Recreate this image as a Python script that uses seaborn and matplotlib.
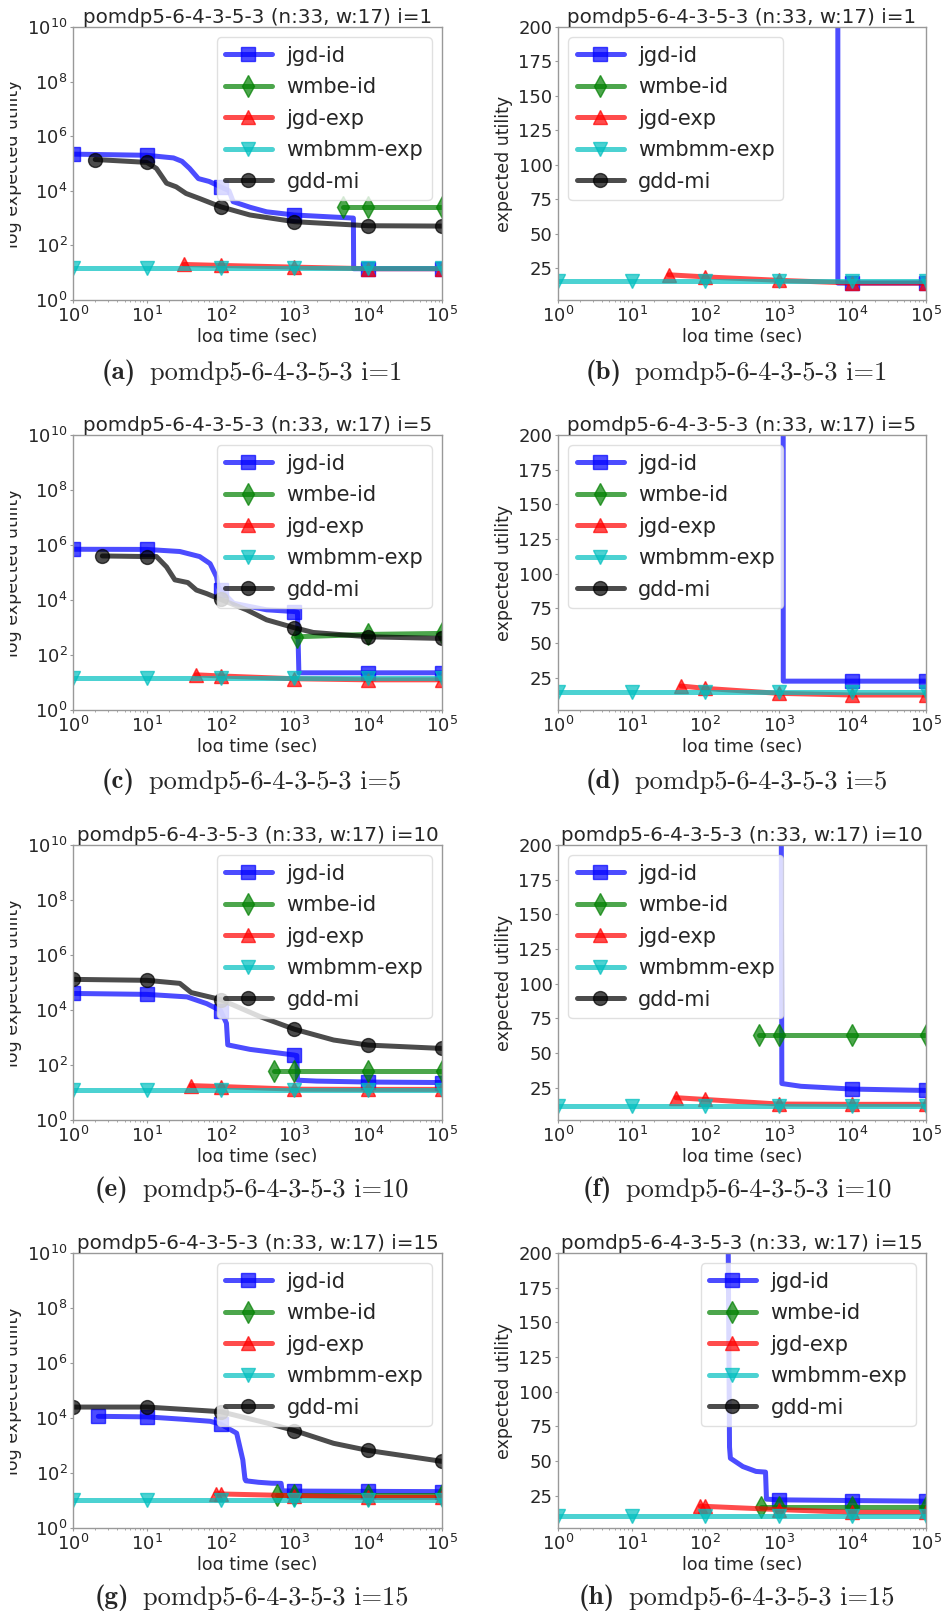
import numpy as np
import pandas as pd
import matplotlib
matplotlib.use("Agg")
import matplotlib.pyplot as plt
import seaborn as sns
from matplotlib.transforms import Bbox, TransformedBbox
from matplotlib.ticker import FixedLocator, NullLocator, LogLocator, NullFormatter

# ---------------- data ----------------
METHODS = ["jgd-id", "wmbe-id", "jgd-exp", "wmbmm-exp", "gdd-mi"]
COLORS = ["b", "g", "r", "c", "k"]
MARKERS = ["s", "d", "^", "v", "o"]
I_VALUES = [1, 5, 10, 15]
PROBLEM = "pomdp5-6-4-3-5-3"
LETTERS = ["a", "b", "c", "d", "e", "f", "g", "h"]

# i = 1
JGDID_T_1 = [1, 10, 23, 30, 38, 50, 70, 100, 130, 148, 250, 420, 1000, 6300, 6350, 1e4, 1e5]
JGDID_V_1 = [2.2e5, 2.0e5, 1.6e5, 1.2e5, 6.6e4, 2.8e4, 2.2e4, 1.4e4, 1.0e4, 4e3, 2.5e3, 1.7e3, 1.3e3, 1.0e3, 14, 14, 14]
WMBEID_T_1 = [4600, 1e4, 1e5]
WMBEID_V_1 = [2600, 2600, 2600]
JGDEXP_T_1 = [32, 100, 1000, 1e4, 1e5]
JGDEXP_V_1 = [20, 18.5, 16, 14, 14]
WMBMM_T_1 = [1, 10, 100, 1000, 1e4, 1e5]
WMBMM_V_1 = [15.5, 15.5, 15.5, 15.5, 15.5, 15.5]
GDDMI_T_1 = [2, 10, 13.5, 18.5, 25, 34, 52, 100, 250, 1000, 1e4, 1e5]
GDDMI_V_1 = [1.4e5, 1.1e5, 6.6e4, 1.9e4, 1.4e4, 8e3, 5.2e3, 2.6e3, 1.3e3, 740, 525, 510]

# i = 5
JGDID_T_5 = [1, 10, 28, 52, 72, 88, 93, 100, 150, 420, 1000, 1100, 1150, 1e4, 1e5]
JGDID_V_5 = [7e5, 6.9e5, 5.8e5, 3.8e5, 2.1e5, 7e4, 3e4, 2.3e4, 7.6e3, 4.4e3, 3.8e3, 3.6e3, 22.5, 22.5, 22.5]
WMBEID_T_5 = [1070, 1e4, 1e5]
WMBEID_V_5 = [460, 560, 610]
JGDEXP_T_5 = [47, 100, 1000, 1e4, 1e5]
JGDEXP_V_5 = [19, 17.3, 13.7, 12.5, 12.5]
WMBMM_T_5 = [1, 10, 100, 1000, 1e4, 1e5]
WMBMM_V_5 = [14.5, 14.5, 14.5, 14.5, 14.5, 14.5]
GDDMI_T_5 = [2.5, 10, 13.5, 18.5, 24, 36, 47, 65, 100, 225, 420, 1000, 1800, 1e4, 1e5]
GDDMI_V_5 = [4e5, 3.8e5, 3.8e5, 1.6e5, 5.4e4, 4.3e4, 2.3e4, 1.7e4, 1.05e4, 4.4e3, 1.9e3, 980, 660, 460, 400]

# i = 10
JGDID_T_10 = [1, 10, 35, 65, 100, 120, 125, 250, 1000, 1080, 1100, 2000, 1e4, 1e5]
JGDID_V_10 = [4e4, 3.7e4, 3e4, 1.7e4, 9.5e3, 3.3e3, 540, 370, 230, 220, 28, 26, 24, 23]
WMBEID_T_10 = [530, 1000, 1e4, 1e5]
WMBEID_V_10 = [63, 63, 63, 63]
JGDEXP_T_10 = [40, 100, 1000, 1e4, 1e5]
JGDEXP_V_10 = [17.8, 16.5, 13.2, 13, 13]
WMBMM_T_10 = [1, 10, 100, 1000, 1e4, 1e5]
WMBMM_V_10 = [12, 12, 12, 12, 12, 12]
GDDMI_T_10 = [1, 10, 28, 40, 100, 340, 1000, 3400, 1e4, 1e5]
GDDMI_V_10 = [1.3e5, 1.2e5, 9.3e4, 4.3e4, 2.4e4, 5.8e3, 2e3, 810, 530, 400]

# i = 15
JGDID_T_15 = [2.2, 10, 31, 72, 100, 165, 200, 214, 220, 325, 490, 660, 680, 1000, 1e4, 1e5]
JGDID_V_15 = [1.15e4, 1.1e4, 9e3, 7.6e3, 6e3, 2.8e3, 300, 60, 52, 46, 42.5, 42, 22.5, 22, 21.5, 21]
WMBEID_T_15 = [575, 1000, 1e4, 1e5]
WMBEID_V_15 = [16.5, 16.5, 16.5, 16.5]
JGDEXP_T_15 = [86, 100, 1000, 1e4, 1e5]
JGDEXP_V_15 = [17.5, 17.3, 15, 13, 13]
WMBMM_T_15 = [1, 10, 100, 1000, 1e4, 1e5]
WMBMM_V_15 = [10.5, 10.5, 10.5, 10.5, 10.5, 10.5]
GDDMI_T_15 = [1, 10, 100, 420, 1000, 3400, 1e4, 1e5]
GDDMI_V_15 = [2.5e4, 2.5e4, 1.7e4, 6.6e3, 3.5e3, 1.2e3, 660, 265]

SERIES = {
    1: [(JGDID_T_1, JGDID_V_1), (WMBEID_T_1, WMBEID_V_1), (JGDEXP_T_1, JGDEXP_V_1),
        (WMBMM_T_1, WMBMM_V_1), (GDDMI_T_1, GDDMI_V_1)],
    5: [(JGDID_T_5, JGDID_V_5), (WMBEID_T_5, WMBEID_V_5), (JGDEXP_T_5, JGDEXP_V_5),
        (WMBMM_T_5, WMBMM_V_5), (GDDMI_T_5, GDDMI_V_5)],
    10: [(JGDID_T_10, JGDID_V_10), (WMBEID_T_10, WMBEID_V_10), (JGDEXP_T_10, JGDEXP_V_10),
         (WMBMM_T_10, WMBMM_V_10), (GDDMI_T_10, GDDMI_V_10)],
    15: [(JGDID_T_15, JGDID_V_15), (WMBEID_T_15, WMBEID_V_15), (JGDEXP_T_15, JGDEXP_V_15),
         (WMBMM_T_15, WMBMM_V_15), (GDDMI_T_15, GDDMI_V_15)],
}

LOG_YTICKS = [1e0, 1e2, 1e4, 1e6, 1e8, 1e10]
LIN_YTICKS = [25, 50, 75, 100, 125, 150, 175, 200]
XTICKS = [1e0, 1e1, 1e2, 1e3, 1e4, 1e5]

# ---------------- style ----------------
sns.set_style("white")
plt.rcParams["font.family"] = ["DejaVu Sans"]
plt.rcParams["mathtext.fontset"] = "dejavusans"

W, H = 946, 1617
fig = plt.figure(figsize=(W / 100, H / 100), dpi=100)
fig.patch.set_facecolor("white")

LEFT_X = (73, 442)
RIGHT_X = (558, 926)
ROW_Y = [(27, 300), (435, 710), (845, 1120), (1253, 1528)]
CAP_Y = [373, 782, 1190, 1598]
CAP_X = [251.5, 736.5]
SPINE_C = "0.6"


def rect(x0, x1, y0, y1):
    return [x0 / W, 1 - y1 / H, (x1 - x0) / W, (y1 - y0) / H]


def marker_idx(t):
    idx = [0]
    for k, v in enumerate(t):
        if k > 0 and abs(np.log10(v) - round(np.log10(v))) < 1e-9:
            idx.append(k)
    return idx


def clip_text(txt, x0px, ybotpx):
    # keep only pixels right of x0px and above ybotpx (pixel coords from top-left)
    bb = Bbox.from_extents(x0px / W, 1 - ybotpx / H, 1, 1)
    txt.set_clip_box(TransformedBbox(bb, fig.transFigure))
    txt.set_clip_on(True)


captions = []
for r, iv in enumerate(I_VALUES):
    y0, y1 = ROW_Y[r]
    for c in range(2):
        xs = LEFT_X if c == 0 else RIGHT_X
        ax = fig.add_axes(rect(xs[0], xs[1], y0, y1))
        ax.set_facecolor("white")
        for m, (t, v) in enumerate(SERIES[iv]):
            df = pd.DataFrame({"time": t, "value": v})
            sns.lineplot(data=df, x="time", y="value", ax=ax, sort=False, estimator=None,
                         color=COLORS[m], marker=MARKERS[m], markevery=marker_idx(t),
                         markersize=10 if MARKERS[m] != "d" else 11,
                         markeredgecolor=COLORS[m], markeredgewidth=1,
                         linewidth=3.6, alpha=0.7, label=METHODS[m])
        ax.set_xscale("log")
        ax.set_xlim(1, 1e5)
        ax.xaxis.set_major_locator(FixedLocator(XTICKS))
        ax.xaxis.set_minor_locator(LogLocator(base=10, subs=np.arange(2, 10), numticks=20))
        ax.xaxis.set_minor_formatter(NullFormatter())
        if c == 0:
            ax.set_yscale("log")
            ax.set_ylim(1, 1e10)
            ax.yaxis.set_major_locator(FixedLocator(LOG_YTICKS))
            ax.yaxis.set_minor_locator(NullLocator())
            ax.set_ylabel("log expected utility", fontsize=12.5, labelpad=4)
            leg_loc = "upper right"
        else:
            ax.set_ylim(1.7, 200)
            ax.yaxis.set_major_locator(FixedLocator(LIN_YTICKS))
            ax.set_ylabel("expected utility", fontsize=12.5, labelpad=4)
            leg_loc = "upper right" if iv == 15 else "upper left"
        ax.set_xlabel("log time (sec)", fontsize=12.5, labelpad=2)
        ax.set_title(f"{PROBLEM} (n:33, w:17) i={iv}", fontsize=14.3, pad=1.5)
        ax.tick_params(axis="both", which="major", labelsize=13, length=2.5, width=0.8,
                       pad=1.5, color=SPINE_C, direction="out", bottom=True, left=True)
        ax.tick_params(axis="x", which="minor", length=1.6, width=0.6, color=SPINE_C,
                       direction="out", bottom=True)
        for s in ax.spines.values():
            s.set_color(SPINE_C)
            s.set_linewidth(1.0)
        ax.legend(loc=leg_loc, fontsize=15, handlelength=2.25, handletextpad=0.7,
                  labelspacing=0.55, borderpad=0.4, frameon=True, fancybox=True,
                  framealpha=0.8, edgecolor="0.85")
        # clip the axis labels as in the cropped original
        clip_text(ax.xaxis.label, 0, y1 + 42)
        if c == 0:
            clip_text(ax.yaxis.label, 10, H)
        # caption: bold letter + roman text
        letter = LETTERS[r * 2 + c]
        ycap = 1 - CAP_Y[r] / H
        t1 = fig.text(0, ycap, f"({letter})", ha="left", va="center", fontsize=19.5,
                      family="cmb10")
        t2 = fig.text(0, ycap, f"{PROBLEM} i={iv}", ha="left", va="center", fontsize=19,
                      family="cmr10")
        captions.append((t1, t2, CAP_X[c]))

# position caption parts so each caption is centred under its panel
fig.canvas.draw()
renderer = fig.canvas.get_renderer()
GAP = 14
for t1, t2, xc in captions:
    w1 = t1.get_window_extent(renderer).width
    w2 = t2.get_window_extent(renderer).width
    left = xc - (w1 + GAP + w2) / 2
    t1.set_x(left / W)
    t2.set_x((left + w1 + GAP) / W)

fig.savefig("out.png", dpi=100, facecolor="white")
